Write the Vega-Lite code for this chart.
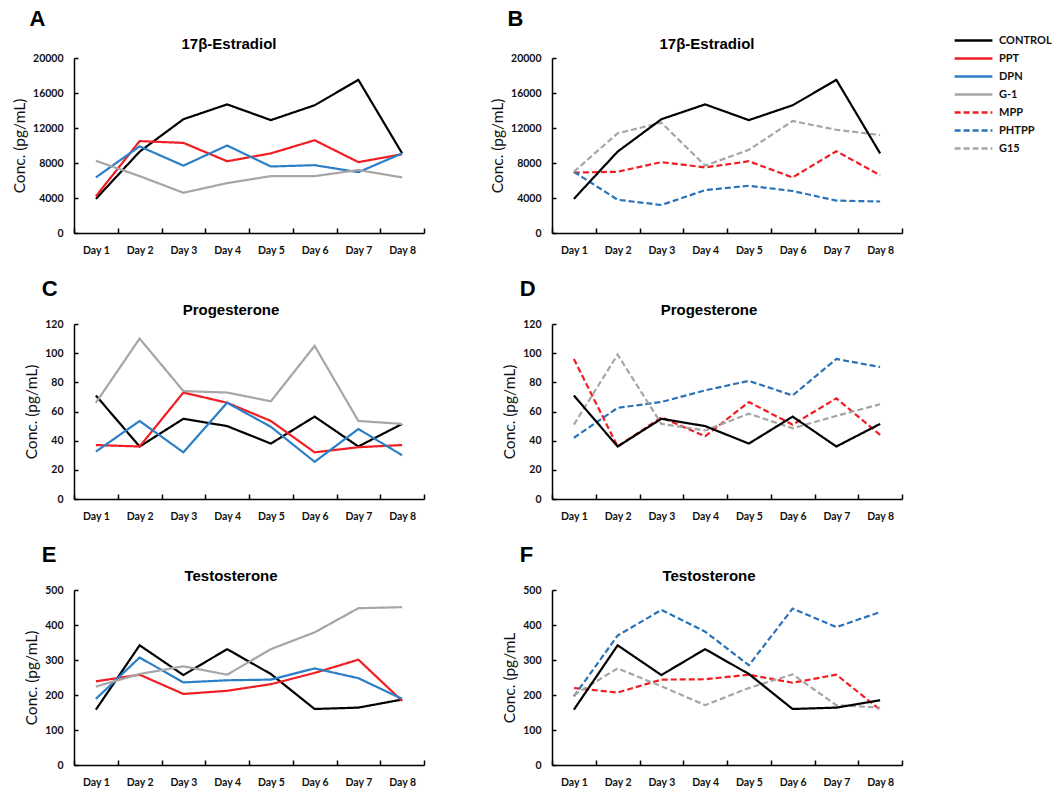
{
  "$schema": "https://vega.github.io/schema/vega-lite/v6.json",
  "padding": {"left": 12, "top": 8, "right": 5, "bottom": 2},
  "background": "white",
  "datasets": {
    "hormones": [
      {"panel": "A", "series": "CONTROL", "day": "Day 1", "value": 3900},
      {"panel": "A", "series": "CONTROL", "day": "Day 2", "value": 9300},
      {"panel": "A", "series": "CONTROL", "day": "Day 3", "value": 13000},
      {"panel": "A", "series": "CONTROL", "day": "Day 4", "value": 14700},
      {"panel": "A", "series": "CONTROL", "day": "Day 5", "value": 12900},
      {"panel": "A", "series": "CONTROL", "day": "Day 6", "value": 14600},
      {"panel": "A", "series": "CONTROL", "day": "Day 7", "value": 17500},
      {"panel": "A", "series": "CONTROL", "day": "Day 8", "value": 9100},
      {"panel": "A", "series": "PPT", "day": "Day 1", "value": 4200},
      {"panel": "A", "series": "PPT", "day": "Day 2", "value": 10500},
      {"panel": "A", "series": "PPT", "day": "Day 3", "value": 10300},
      {"panel": "A", "series": "PPT", "day": "Day 4", "value": 8200},
      {"panel": "A", "series": "PPT", "day": "Day 5", "value": 9100},
      {"panel": "A", "series": "PPT", "day": "Day 6", "value": 10600},
      {"panel": "A", "series": "PPT", "day": "Day 7", "value": 8100},
      {"panel": "A", "series": "PPT", "day": "Day 8", "value": 9000},
      {"panel": "A", "series": "DPN", "day": "Day 1", "value": 6350},
      {"panel": "A", "series": "DPN", "day": "Day 2", "value": 9900},
      {"panel": "A", "series": "DPN", "day": "Day 3", "value": 7700},
      {"panel": "A", "series": "DPN", "day": "Day 4", "value": 10000},
      {"panel": "A", "series": "DPN", "day": "Day 5", "value": 7600},
      {"panel": "A", "series": "DPN", "day": "Day 6", "value": 7750},
      {"panel": "A", "series": "DPN", "day": "Day 7", "value": 6950},
      {"panel": "A", "series": "DPN", "day": "Day 8", "value": 9100},
      {"panel": "A", "series": "G-1", "day": "Day 1", "value": 8250},
      {"panel": "A", "series": "G-1", "day": "Day 2", "value": 6500},
      {"panel": "A", "series": "G-1", "day": "Day 3", "value": 4600},
      {"panel": "A", "series": "G-1", "day": "Day 4", "value": 5700},
      {"panel": "A", "series": "G-1", "day": "Day 5", "value": 6500},
      {"panel": "A", "series": "G-1", "day": "Day 6", "value": 6500},
      {"panel": "A", "series": "G-1", "day": "Day 7", "value": 7200},
      {"panel": "A", "series": "G-1", "day": "Day 8", "value": 6350},

      {"panel": "B", "series": "MPP", "day": "Day 1", "value": 6900},
      {"panel": "B", "series": "MPP", "day": "Day 2", "value": 7000},
      {"panel": "B", "series": "MPP", "day": "Day 3", "value": 8100},
      {"panel": "B", "series": "MPP", "day": "Day 4", "value": 7500},
      {"panel": "B", "series": "MPP", "day": "Day 5", "value": 8200},
      {"panel": "B", "series": "MPP", "day": "Day 6", "value": 6350},
      {"panel": "B", "series": "MPP", "day": "Day 7", "value": 9350},
      {"panel": "B", "series": "MPP", "day": "Day 8", "value": 6600},
      {"panel": "B", "series": "PHTPP", "day": "Day 1", "value": 7000},
      {"panel": "B", "series": "PHTPP", "day": "Day 2", "value": 3800},
      {"panel": "B", "series": "PHTPP", "day": "Day 3", "value": 3200},
      {"panel": "B", "series": "PHTPP", "day": "Day 4", "value": 4900},
      {"panel": "B", "series": "PHTPP", "day": "Day 5", "value": 5400},
      {"panel": "B", "series": "PHTPP", "day": "Day 6", "value": 4800},
      {"panel": "B", "series": "PHTPP", "day": "Day 7", "value": 3700},
      {"panel": "B", "series": "PHTPP", "day": "Day 8", "value": 3600},
      {"panel": "B", "series": "G15", "day": "Day 1", "value": 7000},
      {"panel": "B", "series": "G15", "day": "Day 2", "value": 11400},
      {"panel": "B", "series": "G15", "day": "Day 3", "value": 12600},
      {"panel": "B", "series": "G15", "day": "Day 4", "value": 7700},
      {"panel": "B", "series": "G15", "day": "Day 5", "value": 9500},
      {"panel": "B", "series": "G15", "day": "Day 6", "value": 12800},
      {"panel": "B", "series": "G15", "day": "Day 7", "value": 11800},
      {"panel": "B", "series": "G15", "day": "Day 8", "value": 11200},
      {"panel": "B", "series": "CONTROL", "day": "Day 1", "value": 3900},
      {"panel": "B", "series": "CONTROL", "day": "Day 2", "value": 9300},
      {"panel": "B", "series": "CONTROL", "day": "Day 3", "value": 13000},
      {"panel": "B", "series": "CONTROL", "day": "Day 4", "value": 14700},
      {"panel": "B", "series": "CONTROL", "day": "Day 5", "value": 12900},
      {"panel": "B", "series": "CONTROL", "day": "Day 6", "value": 14600},
      {"panel": "B", "series": "CONTROL", "day": "Day 7", "value": 17500},
      {"panel": "B", "series": "CONTROL", "day": "Day 8", "value": 9100},

      {"panel": "C", "series": "CONTROL", "day": "Day 1", "value": 71},
      {"panel": "C", "series": "CONTROL", "day": "Day 2", "value": 36},
      {"panel": "C", "series": "CONTROL", "day": "Day 3", "value": 55},
      {"panel": "C", "series": "CONTROL", "day": "Day 4", "value": 50},
      {"panel": "C", "series": "CONTROL", "day": "Day 5", "value": 38},
      {"panel": "C", "series": "CONTROL", "day": "Day 6", "value": 56.5},
      {"panel": "C", "series": "CONTROL", "day": "Day 7", "value": 36},
      {"panel": "C", "series": "CONTROL", "day": "Day 8", "value": 51.5},
      {"panel": "C", "series": "PPT", "day": "Day 1", "value": 37},
      {"panel": "C", "series": "PPT", "day": "Day 2", "value": 36},
      {"panel": "C", "series": "PPT", "day": "Day 3", "value": 73},
      {"panel": "C", "series": "PPT", "day": "Day 4", "value": 66},
      {"panel": "C", "series": "PPT", "day": "Day 5", "value": 53.5},
      {"panel": "C", "series": "PPT", "day": "Day 6", "value": 32},
      {"panel": "C", "series": "PPT", "day": "Day 7", "value": 35.5},
      {"panel": "C", "series": "PPT", "day": "Day 8", "value": 37},
      {"panel": "C", "series": "DPN", "day": "Day 1", "value": 32.5},
      {"panel": "C", "series": "DPN", "day": "Day 2", "value": 53.5},
      {"panel": "C", "series": "DPN", "day": "Day 3", "value": 32},
      {"panel": "C", "series": "DPN", "day": "Day 4", "value": 66},
      {"panel": "C", "series": "DPN", "day": "Day 5", "value": 49.5},
      {"panel": "C", "series": "DPN", "day": "Day 6", "value": 25.5},
      {"panel": "C", "series": "DPN", "day": "Day 7", "value": 48},
      {"panel": "C", "series": "DPN", "day": "Day 8", "value": 30},
      {"panel": "C", "series": "G-1", "day": "Day 1", "value": 66},
      {"panel": "C", "series": "G-1", "day": "Day 2", "value": 110},
      {"panel": "C", "series": "G-1", "day": "Day 3", "value": 74},
      {"panel": "C", "series": "G-1", "day": "Day 4", "value": 73},
      {"panel": "C", "series": "G-1", "day": "Day 5", "value": 67},
      {"panel": "C", "series": "G-1", "day": "Day 6", "value": 105},
      {"panel": "C", "series": "G-1", "day": "Day 7", "value": 53.5},
      {"panel": "C", "series": "G-1", "day": "Day 8", "value": 51.5},

      {"panel": "D", "series": "MPP", "day": "Day 1", "value": 96},
      {"panel": "D", "series": "MPP", "day": "Day 2", "value": 36},
      {"panel": "D", "series": "MPP", "day": "Day 3", "value": 56},
      {"panel": "D", "series": "MPP", "day": "Day 4", "value": 43},
      {"panel": "D", "series": "MPP", "day": "Day 5", "value": 66.5},
      {"panel": "D", "series": "MPP", "day": "Day 6", "value": 51},
      {"panel": "D", "series": "MPP", "day": "Day 7", "value": 69},
      {"panel": "D", "series": "MPP", "day": "Day 8", "value": 44},
      {"panel": "D", "series": "PHTPP", "day": "Day 1", "value": 42},
      {"panel": "D", "series": "PHTPP", "day": "Day 2", "value": 62.5},
      {"panel": "D", "series": "PHTPP", "day": "Day 3", "value": 66.5},
      {"panel": "D", "series": "PHTPP", "day": "Day 4", "value": 74.5},
      {"panel": "D", "series": "PHTPP", "day": "Day 5", "value": 81},
      {"panel": "D", "series": "PHTPP", "day": "Day 6", "value": 71},
      {"panel": "D", "series": "PHTPP", "day": "Day 7", "value": 96},
      {"panel": "D", "series": "PHTPP", "day": "Day 8", "value": 90.5},
      {"panel": "D", "series": "G15", "day": "Day 1", "value": 51},
      {"panel": "D", "series": "G15", "day": "Day 2", "value": 99},
      {"panel": "D", "series": "G15", "day": "Day 3", "value": 51.5},
      {"panel": "D", "series": "G15", "day": "Day 4", "value": 47},
      {"panel": "D", "series": "G15", "day": "Day 5", "value": 58.5},
      {"panel": "D", "series": "G15", "day": "Day 6", "value": 48.5},
      {"panel": "D", "series": "G15", "day": "Day 7", "value": 57},
      {"panel": "D", "series": "G15", "day": "Day 8", "value": 65},
      {"panel": "D", "series": "CONTROL", "day": "Day 1", "value": 71},
      {"panel": "D", "series": "CONTROL", "day": "Day 2", "value": 36},
      {"panel": "D", "series": "CONTROL", "day": "Day 3", "value": 55},
      {"panel": "D", "series": "CONTROL", "day": "Day 4", "value": 50},
      {"panel": "D", "series": "CONTROL", "day": "Day 5", "value": 38},
      {"panel": "D", "series": "CONTROL", "day": "Day 6", "value": 56.5},
      {"panel": "D", "series": "CONTROL", "day": "Day 7", "value": 36},
      {"panel": "D", "series": "CONTROL", "day": "Day 8", "value": 51.5},

      {"panel": "E", "series": "CONTROL", "day": "Day 1", "value": 158},
      {"panel": "E", "series": "CONTROL", "day": "Day 2", "value": 342},
      {"panel": "E", "series": "CONTROL", "day": "Day 3", "value": 257},
      {"panel": "E", "series": "CONTROL", "day": "Day 4", "value": 331},
      {"panel": "E", "series": "CONTROL", "day": "Day 5", "value": 260},
      {"panel": "E", "series": "CONTROL", "day": "Day 6", "value": 160},
      {"panel": "E", "series": "CONTROL", "day": "Day 7", "value": 164},
      {"panel": "E", "series": "CONTROL", "day": "Day 8", "value": 187},
      {"panel": "E", "series": "PPT", "day": "Day 1", "value": 239},
      {"panel": "E", "series": "PPT", "day": "Day 2", "value": 258},
      {"panel": "E", "series": "PPT", "day": "Day 3", "value": 203},
      {"panel": "E", "series": "PPT", "day": "Day 4", "value": 212},
      {"panel": "E", "series": "PPT", "day": "Day 5", "value": 231},
      {"panel": "E", "series": "PPT", "day": "Day 6", "value": 263},
      {"panel": "E", "series": "PPT", "day": "Day 7", "value": 301},
      {"panel": "E", "series": "PPT", "day": "Day 8", "value": 183},
      {"panel": "E", "series": "DPN", "day": "Day 1", "value": 189},
      {"panel": "E", "series": "DPN", "day": "Day 2", "value": 307},
      {"panel": "E", "series": "DPN", "day": "Day 3", "value": 236},
      {"panel": "E", "series": "DPN", "day": "Day 4", "value": 242},
      {"panel": "E", "series": "DPN", "day": "Day 5", "value": 244},
      {"panel": "E", "series": "DPN", "day": "Day 6", "value": 276},
      {"panel": "E", "series": "DPN", "day": "Day 7", "value": 248},
      {"panel": "E", "series": "DPN", "day": "Day 8", "value": 189},
      {"panel": "E", "series": "G-1", "day": "Day 1", "value": 224},
      {"panel": "E", "series": "G-1", "day": "Day 2", "value": 260},
      {"panel": "E", "series": "G-1", "day": "Day 3", "value": 282},
      {"panel": "E", "series": "G-1", "day": "Day 4", "value": 258},
      {"panel": "E", "series": "G-1", "day": "Day 5", "value": 331},
      {"panel": "E", "series": "G-1", "day": "Day 6", "value": 379},
      {"panel": "E", "series": "G-1", "day": "Day 7", "value": 448},
      {"panel": "E", "series": "G-1", "day": "Day 8", "value": 451},

      {"panel": "F", "series": "MPP", "day": "Day 1", "value": 220},
      {"panel": "F", "series": "MPP", "day": "Day 2", "value": 207},
      {"panel": "F", "series": "MPP", "day": "Day 3", "value": 244},
      {"panel": "F", "series": "MPP", "day": "Day 4", "value": 245},
      {"panel": "F", "series": "MPP", "day": "Day 5", "value": 258},
      {"panel": "F", "series": "MPP", "day": "Day 6", "value": 235},
      {"panel": "F", "series": "MPP", "day": "Day 7", "value": 258},
      {"panel": "F", "series": "MPP", "day": "Day 8", "value": 158},
      {"panel": "F", "series": "PHTPP", "day": "Day 1", "value": 196},
      {"panel": "F", "series": "PHTPP", "day": "Day 2", "value": 370},
      {"panel": "F", "series": "PHTPP", "day": "Day 3", "value": 443},
      {"panel": "F", "series": "PHTPP", "day": "Day 4", "value": 381},
      {"panel": "F", "series": "PHTPP", "day": "Day 5", "value": 285},
      {"panel": "F", "series": "PHTPP", "day": "Day 6", "value": 447},
      {"panel": "F", "series": "PHTPP", "day": "Day 7", "value": 394},
      {"panel": "F", "series": "PHTPP", "day": "Day 8", "value": 437},
      {"panel": "F", "series": "G15", "day": "Day 1", "value": 200},
      {"panel": "F", "series": "G15", "day": "Day 2", "value": 276},
      {"panel": "F", "series": "G15", "day": "Day 3", "value": 225},
      {"panel": "F", "series": "G15", "day": "Day 4", "value": 171},
      {"panel": "F", "series": "G15", "day": "Day 5", "value": 220},
      {"panel": "F", "series": "G15", "day": "Day 6", "value": 259},
      {"panel": "F", "series": "G15", "day": "Day 7", "value": 171},
      {"panel": "F", "series": "G15", "day": "Day 8", "value": 164},
      {"panel": "F", "series": "CONTROL", "day": "Day 1", "value": 158},
      {"panel": "F", "series": "CONTROL", "day": "Day 2", "value": 342},
      {"panel": "F", "series": "CONTROL", "day": "Day 3", "value": 257},
      {"panel": "F", "series": "CONTROL", "day": "Day 4", "value": 331},
      {"panel": "F", "series": "CONTROL", "day": "Day 5", "value": 260},
      {"panel": "F", "series": "CONTROL", "day": "Day 6", "value": 160},
      {"panel": "F", "series": "CONTROL", "day": "Day 7", "value": 164},
      {"panel": "F", "series": "CONTROL", "day": "Day 8", "value": 185}
    ]
  },
  "data": {"name": "hormones"},
  "columns": 2,
  "spacing": {"row": 22, "column": 65},
  "resolve": {"scale": {"color": "shared", "strokeDash": "shared"}, "legend": {"color": "shared", "strokeDash": "shared"}},
  "concat": [
    {
      "title": {"text": "A", "anchor": "start", "frame": "bounds", "fontSize": 22, "dx": 17, "offset": 6},
      "vconcat": [{
        "title": {"text": "17β-Estradiol", "dx": -20},
        "width": 350, "height": 175,
        "transform": [{"filter": "datum.panel === 'A'"}],
        "mark": {"type": "line", "strokeWidth": 2.2},
        "encoding": {
          "x": {"field": "day", "type": "nominal", "scale": {"type": "band", "paddingInner": 0, "paddingOuter": 0}, "axis": {"title": null}},
          "y": {"field": "value", "type": "quantitative", "scale": {"domain": [0, 20000]}, "axis": {"values": [0, 4000, 8000, 12000, 16000, 20000], "format": "d", "title": "Conc. (pg/mL)"}},
          "color": {"field": "series", "type": "nominal", "scale": {"domain": ["CONTROL", "PPT", "DPN", "G-1", "MPP", "PHTPP", "G15"], "range": ["#000000", "#f01e23", "#2b7fc6", "#a6a6a6", "#f01e23", "#2a72b8", "#a6a6a6"]}, "legend": {"title": null}},
          "strokeDash": {"field": "series", "type": "nominal", "scale": {"domain": ["CONTROL", "PPT", "DPN", "G-1", "MPP", "PHTPP", "G15"], "range": [[1, 0], [1, 0], [1, 0], [1, 0], [6, 3], [6, 3], [6, 3]]}, "legend": {"title": null}}
        }
      }]
    },
    {
      "title": {"text": "B", "anchor": "start", "frame": "bounds", "fontSize": 22, "dx": 17, "offset": 6},
      "vconcat": [{
        "title": {"text": "17β-Estradiol", "dx": -20},
        "width": 350, "height": 175,
        "transform": [{"filter": "datum.panel === 'B'"}],
        "mark": {"type": "line", "strokeWidth": 2.2},
        "encoding": {
          "x": {"field": "day", "type": "nominal", "scale": {"type": "band", "paddingInner": 0, "paddingOuter": 0}, "axis": {"title": null}},
          "y": {"field": "value", "type": "quantitative", "scale": {"domain": [0, 20000]}, "axis": {"values": [0, 4000, 8000, 12000, 16000, 20000], "format": "d", "title": "Conc. (pg/mL)"}},
          "color": {"field": "series", "type": "nominal", "scale": {"domain": ["CONTROL", "PPT", "DPN", "G-1", "MPP", "PHTPP", "G15"], "range": ["#000000", "#f01e23", "#2b7fc6", "#a6a6a6", "#f01e23", "#2a72b8", "#a6a6a6"]}, "legend": {"title": null}},
          "strokeDash": {"field": "series", "type": "nominal", "scale": {"domain": ["CONTROL", "PPT", "DPN", "G-1", "MPP", "PHTPP", "G15"], "range": [[1, 0], [1, 0], [1, 0], [1, 0], [6, 3], [6, 3], [6, 3]]}, "legend": {"title": null}}
        }
      }]
    },
    {
      "title": {"text": "C", "anchor": "start", "frame": "bounds", "fontSize": 22, "dx": 17, "offset": 2},
      "vconcat": [{
        "title": {"text": "Progesterone", "dx": -18},
        "width": 350, "height": 175,
        "transform": [{"filter": "datum.panel === 'C'"}],
        "mark": {"type": "line", "strokeWidth": 2.2},
        "encoding": {
          "x": {"field": "day", "type": "nominal", "scale": {"type": "band", "paddingInner": 0, "paddingOuter": 0}, "axis": {"title": null}},
          "y": {"field": "value", "type": "quantitative", "scale": {"domain": [0, 120]}, "axis": {"values": [0, 20, 40, 60, 80, 100, 120], "title": "Conc. (pg/mL)"}},
          "color": {"field": "series", "type": "nominal", "scale": {"domain": ["CONTROL", "PPT", "DPN", "G-1", "MPP", "PHTPP", "G15"], "range": ["#000000", "#f01e23", "#2b7fc6", "#a6a6a6", "#f01e23", "#2a72b8", "#a6a6a6"]}, "legend": {"title": null}},
          "strokeDash": {"field": "series", "type": "nominal", "scale": {"domain": ["CONTROL", "PPT", "DPN", "G-1", "MPP", "PHTPP", "G15"], "range": [[1, 0], [1, 0], [1, 0], [1, 0], [6, 3], [6, 3], [6, 3]]}, "legend": {"title": null}}
        }
      }]
    },
    {
      "title": {"text": "D", "anchor": "start", "frame": "bounds", "fontSize": 22, "dx": 17, "offset": 2},
      "vconcat": [{
        "title": {"text": "Progesterone", "dx": -18},
        "width": 350, "height": 175,
        "transform": [{"filter": "datum.panel === 'D'"}],
        "mark": {"type": "line", "strokeWidth": 2.2},
        "encoding": {
          "x": {"field": "day", "type": "nominal", "scale": {"type": "band", "paddingInner": 0, "paddingOuter": 0}, "axis": {"title": null}},
          "y": {"field": "value", "type": "quantitative", "scale": {"domain": [0, 120]}, "axis": {"values": [0, 20, 40, 60, 80, 100, 120], "title": "Conc. (pg/mL)"}},
          "color": {"field": "series", "type": "nominal", "scale": {"domain": ["CONTROL", "PPT", "DPN", "G-1", "MPP", "PHTPP", "G15"], "range": ["#000000", "#f01e23", "#2b7fc6", "#a6a6a6", "#f01e23", "#2a72b8", "#a6a6a6"]}, "legend": {"title": null}},
          "strokeDash": {"field": "series", "type": "nominal", "scale": {"domain": ["CONTROL", "PPT", "DPN", "G-1", "MPP", "PHTPP", "G15"], "range": [[1, 0], [1, 0], [1, 0], [1, 0], [6, 3], [6, 3], [6, 3]]}, "legend": {"title": null}}
        }
      }]
    },
    {
      "title": {"text": "E", "anchor": "start", "frame": "bounds", "fontSize": 22, "dx": 17, "offset": 2},
      "vconcat": [{
        "title": {"text": "Testosterone", "dx": -18},
        "width": 350, "height": 175,
        "transform": [{"filter": "datum.panel === 'E'"}],
        "mark": {"type": "line", "strokeWidth": 2.2},
        "encoding": {
          "x": {"field": "day", "type": "nominal", "scale": {"type": "band", "paddingInner": 0, "paddingOuter": 0}, "axis": {"title": null}},
          "y": {"field": "value", "type": "quantitative", "scale": {"domain": [0, 500]}, "axis": {"values": [0, 100, 200, 300, 400, 500], "title": "Conc. (pg/mL)"}},
          "color": {"field": "series", "type": "nominal", "scale": {"domain": ["CONTROL", "PPT", "DPN", "G-1", "MPP", "PHTPP", "G15"], "range": ["#000000", "#f01e23", "#2b7fc6", "#a6a6a6", "#f01e23", "#2a72b8", "#a6a6a6"]}, "legend": {"title": null}},
          "strokeDash": {"field": "series", "type": "nominal", "scale": {"domain": ["CONTROL", "PPT", "DPN", "G-1", "MPP", "PHTPP", "G15"], "range": [[1, 0], [1, 0], [1, 0], [1, 0], [6, 3], [6, 3], [6, 3]]}, "legend": {"title": null}}
        }
      }]
    },
    {
      "title": {"text": "F", "anchor": "start", "frame": "bounds", "fontSize": 22, "dx": 17, "offset": 2},
      "vconcat": [{
        "title": {"text": "Testosterone", "dx": -18},
        "width": 350, "height": 175,
        "transform": [{"filter": "datum.panel === 'F'"}],
        "mark": {"type": "line", "strokeWidth": 2.2},
        "encoding": {
          "x": {"field": "day", "type": "nominal", "scale": {"type": "band", "paddingInner": 0, "paddingOuter": 0}, "axis": {"title": null}},
          "y": {"field": "value", "type": "quantitative", "scale": {"domain": [0, 500]}, "axis": {"values": [0, 100, 200, 300, 400, 500], "title": "Conc. (pg/mL"}},
          "color": {"field": "series", "type": "nominal", "scale": {"domain": ["CONTROL", "PPT", "DPN", "G-1", "MPP", "PHTPP", "G15"], "range": ["#000000", "#f01e23", "#2b7fc6", "#a6a6a6", "#f01e23", "#2a72b8", "#a6a6a6"]}, "legend": {"title": null}},
          "strokeDash": {"field": "series", "type": "nominal", "scale": {"domain": ["CONTROL", "PPT", "DPN", "G-1", "MPP", "PHTPP", "G15"], "range": [[1, 0], [1, 0], [1, 0], [1, 0], [6, 3], [6, 3], [6, 3]]}, "legend": {"title": null}}
        }
      }]
    }
  ],
  "config": {
    "view": {"stroke": null},
    "title": {"font": "Liberation Sans", "fontWeight": "bold", "fontSize": 15, "color": "#000000", "anchor": "middle", "frame": "group", "offset": 1},
    "axis": {
      "grid": false,
      "domainColor": "#000000", "domainWidth": 1.5,
      "tickColor": "#000000", "tickWidth": 1.5,
      "labelFont": "Lato", "labelFontWeight": "bold", "labelFontSize": 10.5, "labelColor": "#111111",
      "titleFont": "Lato", "titleFontWeight": "normal", "titleFontSize": 15.5, "titleColor": "#111111"
    },
    "axisX": {"labelAngle": 0, "tickBand": "extent", "tickSize": -5, "labelPadding": 17},
    "axisY": {"tickSize": -4, "labelPadding": 15, "titlePadding": 5},
    "legend": {
      "orient": "none", "legendX": 889, "legendY": -28,
      "symbolType": "M-2.1,0H2.1", "symbolSize": 324, "symbolStrokeWidth": 2.5,
      "labelFont": "Lato", "labelFontWeight": "bold", "labelFontSize": 11, "labelColor": "#111111", "labelAlign": "left",
      "rowPadding": 2, "labelOffset": 15
    }
  }
}
